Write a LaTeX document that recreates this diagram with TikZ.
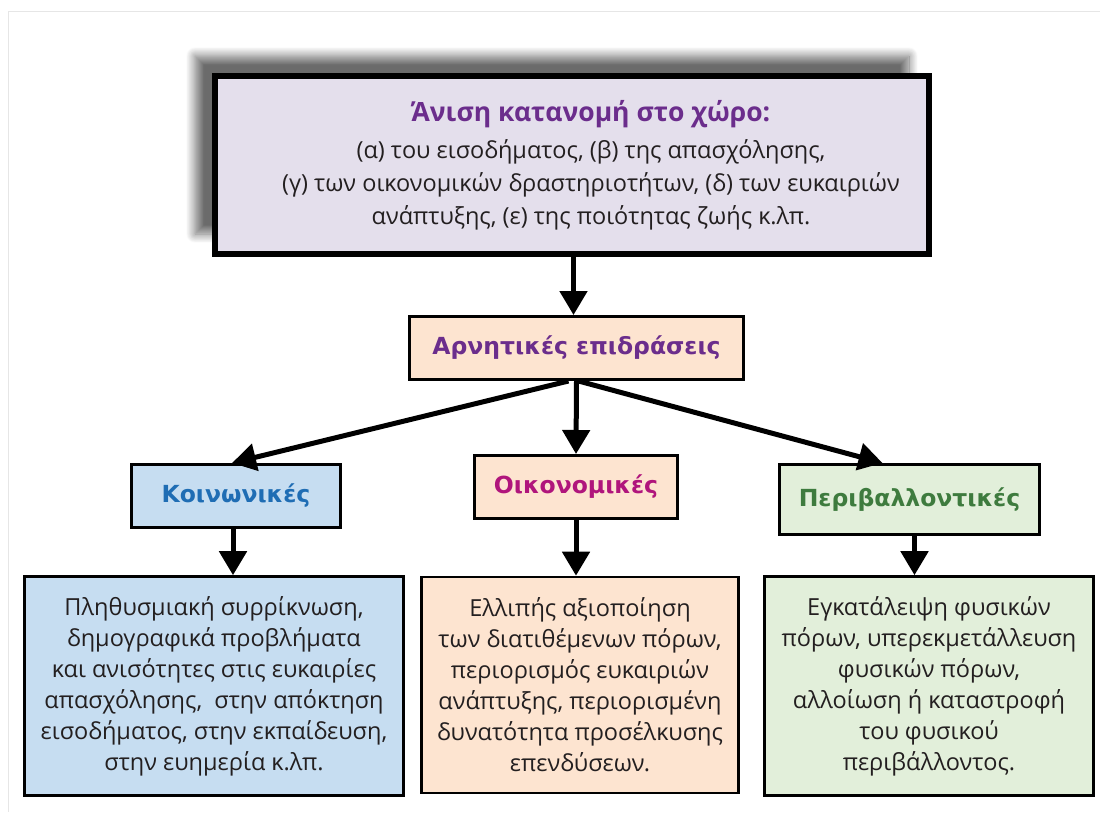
\documentclass[tikz,border=0pt]{standalone}
\usepackage{fontspec}
\setmainfont{Open Sans}
\newfontfamily\labelfont{DejaVu Sans}
\usetikzlibrary{arrows.meta,shadows.blur}

\definecolor{inktext}{HTML}{231F20}
\definecolor{lavender}{HTML}{E4DFEC}
\definecolor{violet}{HTML}{6B2D8C}
\definecolor{peach}{HTML}{FDE4D0}
\definecolor{skyfill}{HTML}{C6DDF1}
\definecolor{skytext}{HTML}{1F6DB4}
\definecolor{leaffill}{HTML}{E2EFDA}
\definecolor{leaftext}{HTML}{3E7B3E}
\definecolor{plum}{HTML}{B0157C}
\definecolor{framegray}{HTML}{E6E6E6}

\tikzset{
  box/.style={draw=black, line width=3pt, inner sep=0pt, anchor=center},
  tagbox/.style={box, font=\labelfont\bfseries\fontsize{23.5}{26}\selectfont},
  textbox/.style={box, line width=2.6pt, align=center, text=inktext,
    font=\fontsize{23.5}{31}\selectfont},
  arr/.style={line width=5pt, -{Triangle[width=27pt,length=24pt]}},
}

\begin{document}
\begin{tikzpicture}[x=1pt,y=-1pt]
\useasboundingbox (0,0) rectangle (1100,812);
% faint page frame
\draw[framegray, line width=1pt] (8,812) -- (8,11) -- (1100,11);

% heading box with its soft shadow
\node[box, line width=6pt, fill=lavender, minimum width=714pt, minimum height=178pt,
      blur shadow={shadow xshift=-20pt, shadow yshift=20pt, shadow blur radius=9pt,
      shadow opacity=58, shadow blur steps=16}] (top) at (572,165) {};
\node[align=center, text=inktext, font=\fontsize{23.5}{33}\selectfont] (toptext) at (591,165)
  {{\bfseries\fontsize{26.5}{33}\selectfont\color{violet}Άνιση κατανομή στο χώρο:}\\[4pt]
   (α) του εισοδήματος, (β) της απασχόλησης,\\
   (γ) των οικονομικών δραστηριοτήτων, (δ) των ευκαιριών\\
   ανάπτυξης, (ε) της ποιότητας ζωής κ.λπ.};

\node[tagbox, fill=peach, text=violet, minimum width=334pt, minimum height=63pt] (arn) at (576.5,348) {Αρνητικές επιδράσεις};

\node[tagbox, fill=skyfill, text=skytext, minimum width=209pt, minimum height=63pt] (koin) at (236,496) {Κοινωνικές};
\node[tagbox, fill=peach, text=plum, minimum width=203pt, minimum height=63pt] (oik) at (576,487) {Οικονομικές};
\node[tagbox, fill=leaffill, text=leaftext, minimum width=260pt, minimum height=70pt] (per) at (909.5,499.5) {Περιβαλλοντικές};

\node[textbox, fill=skyfill, minimum width=379pt, minimum height=219pt] (b1) at (214,686)
  {Πληθυσμιακή συρρίκνωση,\\ δημογραφικά προβλήματα\\ και ανισότητες στις ευκαιρίες\\ απασχόλησης,\ \ στην απόκτηση\\ εισοδήματος, στην εκπαίδευση,\\ στην ευημερία κ.λπ.};
\node[textbox, fill=peach, minimum width=317pt, minimum height=216pt] (b2) at (580,685)
  {Ελλιπής αξιοποίηση\\ των διατιθέμενων πόρων,\\ περιορισμός ευκαιριών\\ ανάπτυξης, περιορισμένη\\ δυνατότητα προσέλκυσης\\ επενδύσεων.};
\node[textbox, fill=leaffill, minimum width=329pt, minimum height=219pt] (b3) at (929,686)
  {Εγκατάλειψη φυσικών\\ πόρων, υπερεκμετάλλευση\\ φυσικών πόρων,\\ αλλοίωση ή καταστροφή\\ του φυσικού\\ περιβάλλοντος.};

% connectors
\draw[arr] ([xshift=-3pt]arn.north |- top.south) -- ([xshift=-3pt]arn.north);
\draw[arr] ([xshift=-8pt]arn.south) -- ([xshift=-4pt]koin.north);
\draw[arr] (arn.south) -- (oik.north);
\draw[arr] ([xshift=2pt]arn.south) -- ([xshift=-27pt]per.north);
\draw[arr] ([xshift=-3pt]koin.south) -- ([xshift=-3pt]koin.south |- b1.north);
\draw[arr] (oik.south) -- (oik.south |- b2.north);
\draw[arr] ([xshift=5pt]per.south) -- ([xshift=5pt]per.south |- b3.north);
\end{tikzpicture}
\end{document}
